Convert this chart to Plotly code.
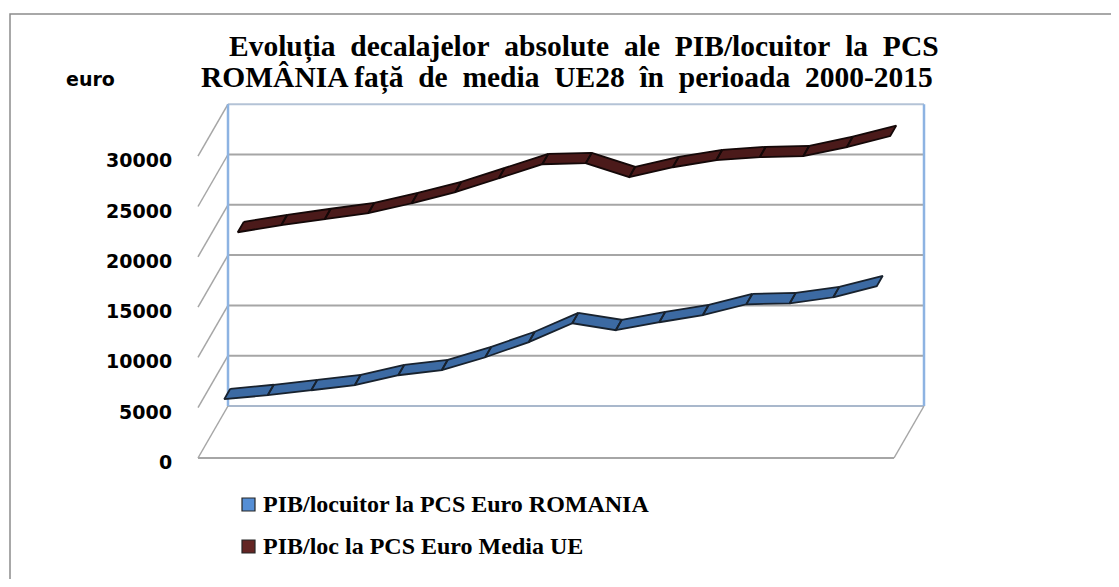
import plotly.graph_objects as go

# ---------------- data ----------------
years = list(range(2000, 2016))
romania = [5070, 5470, 5960, 6460, 7450, 7950, 9240, 10740, 12620, 11930,
           12720, 13420, 14500, 14600, 15200, 16300]
eu_avg = [19340, 20040, 20640, 21230, 22220, 23320, 24700, 26100, 26200, 24810,
          25800, 26500, 26800, 26900, 27800, 28900]
y_ticks = [0, 5000, 10000, 15000, 20000, 25000, 30000]
series_names = ["PIB/locuitor la PCS Euro ROMANIA", "PIB/loc la PCS Euro Media UE"]
title_line1 = ["Evoluția", "decalajelor", "absolute", "ale", "PIB/locuitor", "la", "PCS"]
title_line2 = ["ROMÂNIA față", "de", "media", "UE28", "în", "perioada", "2000-2015"]
y_unit = "euro"

# ---------------- geometry (pseudo 3-D, Excel style) ----------------
PAGE_W, PAGE_H = 1119, 587
OFF = 8                      # default body margin of the html page
W, H = PAGE_W - 2 * OFF, PAGE_H - 2 * OFF
CAT_PX = 43.5                # pixels per category on the back wall
WALL_L = 228 - OFF           # back wall left edge (figure px)
WALL_B = 406 - OFF           # back wall bottom (value 0) (figure px)
PX_PER_EUR = 50.3 / 5000
DEPTH_X_PX, DEPTH_Y_PX = -30, 52   # front is shifted left/down

dX = DEPTH_X_PX / CAT_PX
dV = -DEPTH_Y_PX / PX_PER_EUR
n = len(years)
X0, X1 = -0.5, n - 0.5
VMAX = y_ticks[-1]

x_range = [-0.5 - WALL_L / CAT_PX, -0.5 + (W - WALL_L) / CAT_PX]
y_range = [(WALL_B - H) / PX_PER_EUR, WALL_B / PX_PER_EUR]


def proj(i, v, d):
    return i + d * dX, v + d * dV


def px(x):  # page pixel -> paper
    return (x - OFF) / W


def py(y):
    return 1 - (y - OFF) / H


fig = go.Figure()

# ---------------- walls ----------------
shapes = []
grid_col = "#a6a6a6"
wall_blue = "#8db3e2"
for t in y_ticks:
    xa, ya = proj(X0, t, 0)
    xb, yb = proj(X1, t, 0)
    col = grid_col
    if t == 0:
        col = "#a9b8cc"
    if t == VMAX:
        col = "#b4c3d6"
    shapes.append(dict(type="line", xref="x", yref="y", x0=xa, y0=ya, x1=xb, y1=yb,
                       line=dict(color=col, width=2), layer="below"))
    fx, fy = proj(X0, t, 1)
    shapes.append(dict(type="line", xref="x", yref="y", x0=fx, y0=fy, x1=xa, y1=ya,
                       line=dict(color=grid_col, width=1.5), layer="below"))
for xe in (X0, X1):
    xa, ya = proj(xe, 0, 0)
    xb, yb = proj(xe, VMAX, 0)
    shapes.append(dict(type="line", xref="x", yref="y", x0=xa, y0=ya, x1=xb, y1=yb,
                       line=dict(color=wall_blue, width=2.5), layer="below"))
# floor
fa = proj(X0, 0, 1)
fb = proj(X1, 0, 1)
fc = proj(X1, 0, 0)
shapes.append(dict(type="line", xref="x", yref="y", x0=fa[0], y0=fa[1], x1=fb[0], y1=fb[1],
                   line=dict(color=grid_col, width=2), layer="below"))
shapes.append(dict(type="line", xref="x", yref="y", x0=fb[0], y0=fb[1], x1=fc[0], y1=fc[1],
                   line=dict(color=grid_col, width=1.5), layer="below"))

# outer frame
shapes.append(dict(type="rect", xref="paper", yref="paper", x0=px(10), y0=py(14),
                   x1=px(PAGE_W + 30), y1=py(PAGE_H + 30), line=dict(color="#8c8c8c", width=1.5)))


# ---------------- ribbons ----------------
def ribbon(values, depth, half=0.1):
    xs, ys = [], []
    for i in range(len(values) - 1):
        pts = [proj(i, values[i], depth - half), proj(i + 1, values[i + 1], depth - half),
               proj(i + 1, values[i + 1], depth + half), proj(i, values[i], depth + half),
               proj(i, values[i], depth - half)]
        for p in pts:
            xs.append(p[0])
            ys.append(p[1])
        xs.append(None)
        ys.append(None)
    return xs, ys


xs, ys = ribbon(eu_avg, 0.30)
fig.add_trace(go.Scatter(x=xs, y=ys, mode="lines", fill="toself", fillcolor="#4b1a1a",
                         line=dict(color="#140808", width=1.8), name=series_names[1],
                         showlegend=False, hoverinfo="skip"))
xs, ys = ribbon(romania, 0.75)
fig.add_trace(go.Scatter(x=xs, y=ys, mode="lines", fill="toself", fillcolor="#3c6aa3",
                         line=dict(color="#18222e", width=1.8), name=series_names[0],
                         showlegend=False, hoverinfo="skip"))

# ---------------- annotations ----------------
ann = []
tick_font = dict(family="DejaVu Sans", size=19, color="black")
for t in y_ticks:
    fx, fy = proj(X0, t, 1)
    ann.append(dict(x=fx, y=fy, xref="x", yref="y", text="<b>%d</b>" % t, showarrow=False,
                    xanchor="right", yanchor="middle", xshift=-24, yshift=-4, font=tick_font))
ann.append(dict(x=px(90), y=py(79), xref="paper", yref="paper", text="<b>%s</b>" % y_unit,
                showarrow=False, xanchor="center", yanchor="middle", font=tick_font))

title_font = dict(family="Liberation Serif", size=29.5, color="black")
gap = "\u00a0 "
ann.append(dict(x=px(584), y=py(47), xref="paper", yref="paper",
                text="<b>%s</b>" % gap.join(title_line1),
                showarrow=False, xanchor="center", yanchor="middle", font=title_font))
ann.append(dict(x=px(567), y=py(78), xref="paper", yref="paper",
                text="<b>%s</b>" % gap.join(title_line2),
                showarrow=False, xanchor="center", yanchor="middle", font=title_font))

# legend (manual)
legend_font = dict(family="Liberation Serif", size=24, color="black")
leg_cols = ["#558ed5", "#632523"]
leg_y = [504, 546]
for name, col, ly in zip(series_names, leg_cols, leg_y):
    shapes.append(dict(type="rect", xref="paper", yref="paper", x0=px(242), x1=px(255),
                       y0=py(ly - 6), y1=py(ly + 7), fillcolor=col,
                       line=dict(color="#262626", width=1.2)))
    ann.append(dict(x=px(261), y=py(ly), xref="paper", yref="paper", text="<b>%s</b>" % name,
                    showarrow=False, xanchor="left", yanchor="middle", font=legend_font))

fig.update_layout(
    width=W, height=H,
    margin=dict(l=0, r=0, t=0, b=0),
    paper_bgcolor="white", plot_bgcolor="white",
    xaxis=dict(range=x_range, visible=False, fixedrange=True),
    yaxis=dict(range=y_range, visible=False, fixedrange=True),
    shapes=shapes, annotations=ann, showlegend=False,
)

fig.write_html("out.html")
